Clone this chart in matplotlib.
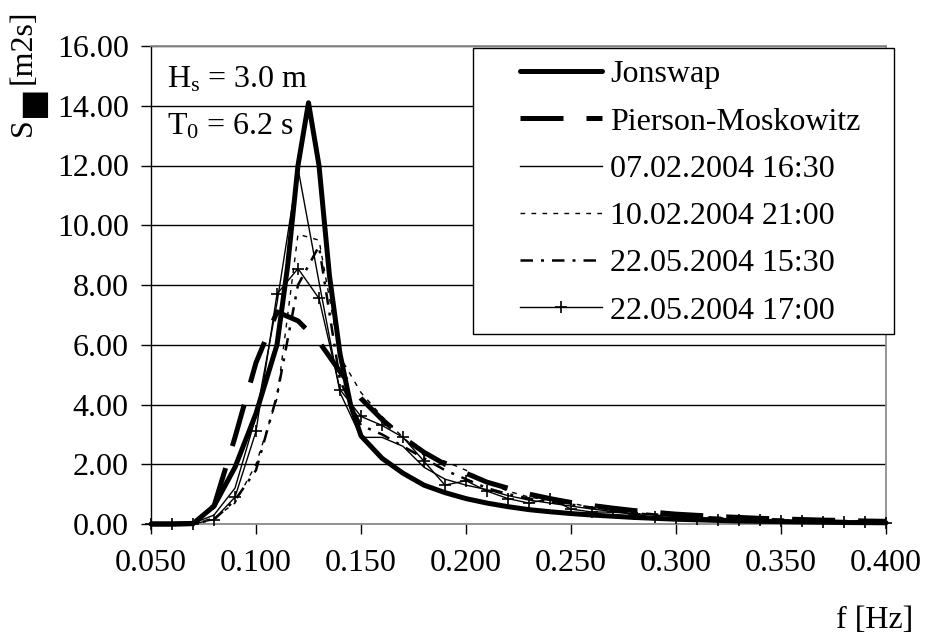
import numpy as np
import matplotlib
matplotlib.use('Agg')
import matplotlib.pyplot as plt
from matplotlib.patches import Rectangle

plt.rcParams['font.family'] = ['Liberation Serif', 'DejaVu Sans']
plt.rcParams['mathtext.fontset'] = 'custom'
plt.rcParams['mathtext.rm'] = 'Liberation Serif'
plt.rcParams['mathtext.it'] = 'Liberation Serif'

# frequency grid of the measured spectra and of Pierson-Moskowitz [Hz]
freq = [0.05, 0.06, 0.07, 0.08, 0.09, 0.10, 0.11, 0.12, 0.13, 0.14, 0.15, 0.16,
        0.17, 0.18, 0.19, 0.20, 0.21, 0.22, 0.23, 0.24, 0.25, 0.26, 0.27, 0.28,
        0.29, 0.30, 0.31, 0.32, 0.33, 0.34, 0.35, 0.36, 0.37, 0.38, 0.39, 0.40]

# Jonswap has a finer grid around the peak
freq_jonswap = [0.05, 0.06, 0.07, 0.08, 0.09, 0.10, 0.11, 0.115, 0.12, 0.125,
                0.13, 0.135, 0.14, 0.145, 0.15, 0.16, 0.17, 0.18, 0.19, 0.20,
                0.21, 0.22, 0.23, 0.24, 0.25, 0.26, 0.27, 0.28, 0.29, 0.30,
                0.31, 0.32, 0.33, 0.34, 0.35, 0.36, 0.37, 0.38, 0.39, 0.40]
jonswap = [0.0, 0.0, 0.01, 0.6, 1.9, 3.7, 6.0, 8.6, 12.0, 14.1,
           12.0, 8.3, 5.7, 4.0, 2.95, 2.2, 1.7, 1.3, 1.05, 0.85,
           0.7, 0.58, 0.48, 0.41, 0.35, 0.3, 0.26, 0.22, 0.19, 0.16,
           0.14, 0.12, 0.1, 0.09, 0.08, 0.07, 0.06, 0.05, 0.045, 0.04]

pierson = [0.0, 0.0, 0.02, 0.6, 2.9, 5.4, 7.1, 6.8, 6.1, 5.1, 4.2, 3.5,
           2.9, 2.4, 2.0, 1.7, 1.4, 1.2, 1.0, 0.85, 0.72, 0.62, 0.53, 0.45,
           0.39, 0.33, 0.29, 0.25, 0.22, 0.19, 0.17, 0.15, 0.13, 0.12, 0.1, 0.09]

m_0702_1630 = [0.0, 0.0, 0.02, 0.3, 1.2, 3.6, 7.4, 11.9, 8.1, 4.4, 2.9, 2.9,
               2.6, 1.9, 1.5, 1.3, 1.15, 0.95, 0.8, 0.7, 0.6, 0.5, 0.42, 0.35,
               0.3, 0.25, 0.22, 0.19, 0.16, 0.14, 0.12, 0.1, 0.09, 0.08, 0.07, 0.06]

m_1002_2100 = [0.0, 0.0, 0.02, 0.2, 0.7, 2.0, 4.2, 9.7, 9.5, 5.6, 4.4, 3.6,
               2.9, 2.3, 2.1, 1.8, 1.4, 1.1, 0.9, 0.8, 0.7, 0.55, 0.45, 0.38,
               0.32, 0.27, 0.24, 0.21, 0.18, 0.16, 0.14, 0.12, 0.1, 0.09, 0.08, 0.07]

m_2205_1530 = [0.0, 0.0, 0.01, 0.15, 0.8, 1.8, 4.3, 8.0, 9.3, 4.8, 3.3, 3.0,
               2.6, 2.2, 1.8, 1.5, 1.2, 1.0, 0.85, 0.75, 0.65, 0.55, 0.45, 0.38,
               0.32, 0.28, 0.24, 0.21, 0.19, 0.17, 0.15, 0.13, 0.11, 0.1, 0.09, 0.08]

m_2205_1700 = [0.0, 0.0, 0.0, 0.15, 0.9, 3.1, 7.7, 8.55, 7.55, 4.5, 3.6, 3.3,
               2.9, 2.1, 1.3, 1.45, 1.1, 0.85, 0.7, 0.85, 0.5, 0.4, 0.4, 0.33,
               0.22, 0.2, 0.17, 0.15, 0.13, 0.12, 0.1, 0.09, 0.08, 0.07, 0.06, 0.05]

x_ticks = [0.05, 0.10, 0.15, 0.20, 0.25, 0.30, 0.35, 0.40]
y_ticks = [0, 2, 4, 6, 8, 10, 12, 14, 16]

FS = 23

fig = plt.figure(figsize=(9.32, 6.36), dpi=100)
ax = fig.add_axes([151 / 932, 1 - 524 / 636, 735 / 932, 478 / 636])

ax.plot(freq_jonswap, jonswap, color='black', lw=3.6, solid_joinstyle='round',
        solid_capstyle='round', clip_on=False, label='Jonswap', zorder=5)
ax.plot(freq, pierson, color='black', lw=3.6, ls=(0, (8.6, 4.6)),
        clip_on=False, label='Pierson-Moskowitz', zorder=4)
ax.plot(freq, m_0702_1630, color='black', lw=1.0, clip_on=False,
        label='07.02.2004 16:30', zorder=3)
ax.plot(freq, m_1002_2100, color='black', lw=1.0, ls=(0, (3.4, 4.5)),
        clip_on=False, label='10.02.2004 21:00', zorder=3)
ax.plot(freq, m_2205_1530, color='black', lw=1.8, ls=(0, (5.0, 3.2, 1.2, 3.2)),
        clip_on=False, label='22.05.2004 15:30', zorder=3)
ax.plot(freq, m_2205_1700, color='black', lw=1.0, marker='+', ms=9, mew=1.2,
        clip_on=False, label='22.05.2004 17:00', zorder=3)

ax.set_xlim(0.05, 0.40)
ax.set_ylim(0, 16)
ax.set_xticks(x_ticks)
ax.set_yticks(y_ticks)
ax.set_xticklabels(['{:.3f}'.format(v) for v in x_ticks], fontsize=FS)
ax.set_yticklabels(['{:.2f}'.format(v) for v in y_ticks], fontsize=FS)
ax.tick_params(axis='both', direction='out', length=7, width=1, color='black')
ax.tick_params(axis='x', pad=11)
ax.tick_params(axis='y', pad=9)
ax.grid(axis='y', color='black', lw=1.0)
ax.set_axisbelow(True)

for side in ['top', 'right', 'bottom']:
    ax.spines[side].set_color('#8c8c8c')
    ax.spines[side].set_linewidth(1.3)
ax.spines['left'].set_color('black')
ax.spines['left'].set_linewidth(1.0)

# wave parameters
ax.text(167 / 932, 1 - 80 / 636, r'H$_\mathrm{s}$ = 3.0 m', transform=fig.transFigure,
        fontsize=FS, va='center', ha='left')
ax.text(167 / 932, 1 - 127 / 636, r'T$_\mathrm{0}$ = 6.2 s', transform=fig.transFigure,
        fontsize=FS, va='center', ha='left')

# legend box
box = Rectangle((473 / 932, 1 - 334 / 636), 421 / 932, 286 / 636,
                transform=fig.transFigure, facecolor='white', edgecolor='black',
                lw=1.0, zorder=6)
fig.patches.append(box)
leg = fig.legend(loc='upper left', bbox_to_anchor=(520 / 932, 1 - 60 / 636),
                 frameon=False, fontsize=FS, handlelength=2.57, handletextpad=0.25,
                 labelspacing=0.56, borderpad=0, borderaxespad=0)
leg.set_zorder(7)

# axis titles
fig.text(23 / 932, 1 - 127 / 636, 'S', rotation=90, fontsize=FS, ha='center', va='center')
fig.text(32 / 932, 1 - 101 / 636, '\u25A0', rotation=90, fontsize=24,
         family='DejaVu Sans', ha='center', va='center')
fig.text(23 / 932, 1 - 47 / 636, '[m2s]', rotation=90, fontsize=FS, ha='center', va='center')
fig.text(913 / 932, 1 - 621 / 636, 'f [Hz]', fontsize=FS, ha='right', va='center')

fig.savefig('out.png', dpi=100)
